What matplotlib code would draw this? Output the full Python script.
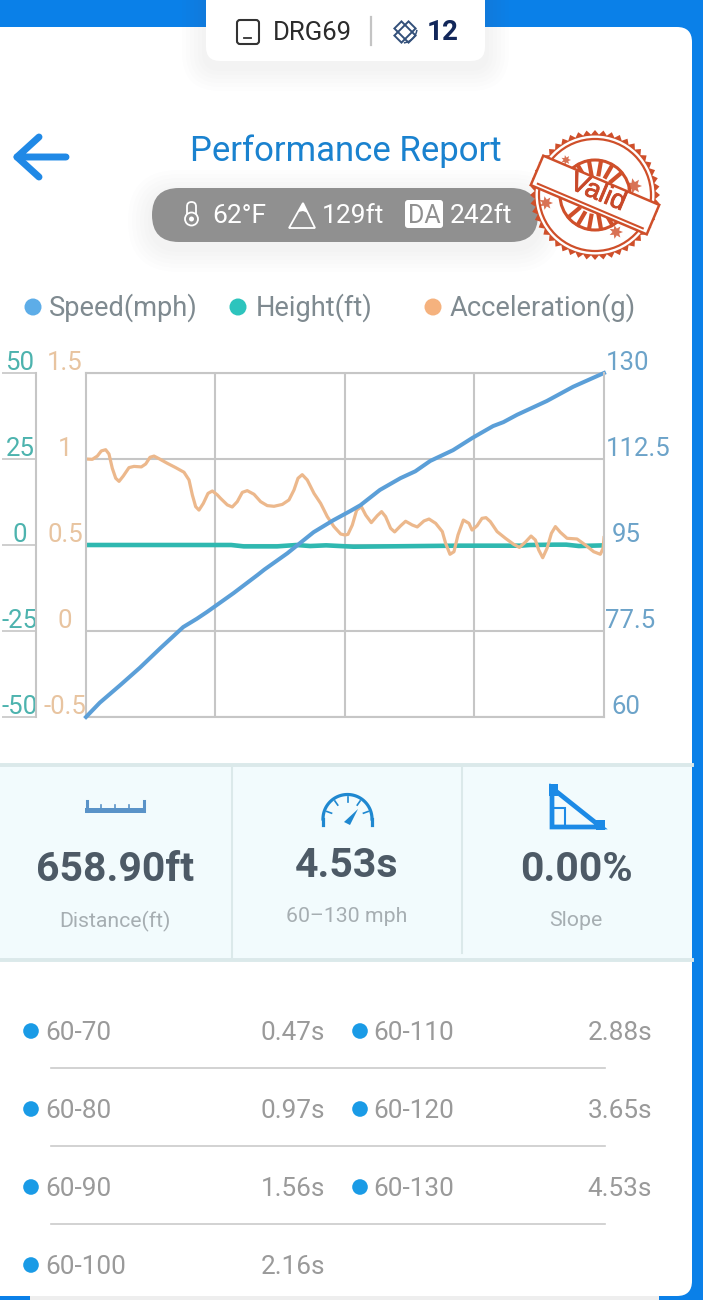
import numpy as np
import matplotlib
matplotlib.use('Agg')
import matplotlib.pyplot as plt
import matplotlib.patheffects as pe
from matplotlib.patches import FancyBboxPatch, Circle, Polygon, Rectangle
from matplotlib.transforms import ScaledTranslation

plt.rcParams['font.family'] = ['Roboto', 'DejaVu Sans']

# Speed over time
speed_t = [0, .12, .30, .47, .65, .85, .97, 1.06, 1.29, 1.50, 1.56, 1.76, 1.99, 2.16, 2.31, 2.40, 2.57,
           2.75, 2.88, 3.01, 3.21, 3.38, 3.56, 3.65, 3.77, 4.03, 4.26, 4.53]
speed = [60, 62.9, 66.5, 70, 74, 78.3, 80, 81.4, 85.2, 88.9, 90, 93.3, 97.6, 100, 101.9, 103.1, 106.2,
         108.6, 110, 112.1, 114.3, 116.8, 119.2, 120, 121.5, 124.3, 127.2, 130]

# Height over time
height_t = [0, 1.27, 1.38, 1.67, 1.84, 1.96, 2.10, 2.22, 2.34, 3.24, 3.80, 3.88, 4.10, 4.20, 4.31, 4.53]
height = [0, 0, -.4, -.4, 0, -.3, -.1, -.3, -.5, -.2, -.2, 0, .1, .1, -.3, -.1]

# Acceleration over time
accel_t = [0, .055, .099, .134, .172, .201, .23, .26, .289, .326, .376, .42, .484, .522, .56, .595, .638,
           .711, .784, .857, .901, .93, .959, .988, 1.026, 1.067, 1.105, 1.149, 1.177, 1.236, 1.279, 1.323,
           1.367, 1.41, 1.469, 1.527, 1.585, 1.644, 1.717, 1.775, 1.819, 1.854, 1.891, 1.935, 1.994, 2.052,
           2.11, 2.168, 2.227, 2.265, 2.291, 2.329, 2.367, 2.408, 2.446, 2.495, 2.548, 2.585, 2.62, 2.664,
           2.699, 2.752, 2.795, 2.854, 2.897, 2.956, 3.0, 3.058, 3.116, 3.145, 3.183, 3.218, 3.253, 3.3,
           3.349, 3.376, 3.42, 3.463, 3.498, 3.536, 3.595, 3.668, 3.74, 3.79, 3.842, 3.892, 3.93, 3.959,
           3.994, 4.032, 4.07, 4.105, 4.148, 4.207, 4.294, 4.367, 4.44, 4.498, 4.522, 4.53]
accel = [1.0, .998, 1.017, 1.047, 1.054, 1.029, .946, .888, .870, .901, .950, .957, .954, .971, 1.010, 1.017,
         1.002, .975, .950, .923, .878, .791, .723, .703, .742, .8, .814, .791, .771, .733, .721, .752, .806,
         .816, .795, .752, .729, .725, .736, .762, .82, .888, .909, .878, .8, .742, .665, .607, .564, .558,
         .562, .616, .703, .723, .674, .630, .671, .694, .665, .597, .576, .612, .638, .616, .605, .640, .651,
         .626, .578, .510, .446, .461, .558, .645, .626, .587, .612, .655, .659, .636, .578, .539, .504, .486,
         .516, .552, .529, .471, .426, .481, .568, .607, .574, .539, .535, .5, .461, .446, .481, .543]

speed_ticks = [60, 77.5, 95, 112.5, 130]
speed_labels = ['60', '77.5', '95', '112.5', '130']
height_ticks = [-50, -25, 0, 25, 50]
height_labels = ['-50', '-25', '0', '25', '50']
accel_ticks = [-0.5, 0, 0.5, 1, 1.5]
accel_labels = ['-0.5', '0', '0.5', '1', '1.5']
total_time = 4.53

legend_names = ['Speed(mph)', 'Height(ft)', 'Acceleration(g)']
stat_values = ['658.90ft', '4.53s', '0.00%']
stat_names = ['Distance(ft)', '60\u2013130 mph', 'Slope']
split_names = ['60-70', '60-80', '60-90', '60-100', '60-110', '60-120', '60-130']
split_times = ['0.47s', '0.97s', '1.56s', '2.16s', '2.88s', '3.65s', '4.53s']

BLUE = '#0a80e8'
GRID = '#c6c6c6'
C_SPEED, C_HEIGHT, C_ACCEL = '#5b9fd8', '#2fb8b0', '#ecb88c'

fig = plt.figure(figsize=(7.03, 13), dpi=100, facecolor=BLUE)

# Screen layer, in pixel coordinates
ui = fig.add_axes([0, 0, 1, 1])
ui.set_xlim(0, 703)
ui.set_ylim(1300, 0)
ui.axis('off')


def rounded(x, y, w, h, r, **kw):
    p = FancyBboxPatch((x + r, y + r), w - 2 * r, h - 2 * r,
                       boxstyle=f'round,pad={r},rounding_size={r}', linewidth=0, **kw)
    ui.add_patch(p)
    return p


def shadow(x, y, w, h, r, drop=6):
    for grow in range(24, 0, -4):
        rounded(x - grow, y - grow + drop, w + 2 * grow, h + 2 * grow, r + grow, facecolor='#707a88', alpha=.01, zorder=2)


def star(x, y, r, n=7):
    a = np.linspace(0, 2 * np.pi, 2 * n, endpoint=False)
    rad = np.where(np.arange(2 * n) % 2 == 0, r, r * .5)
    ui.add_patch(Polygon(np.c_[x + rad * np.cos(a), y + rad * np.sin(a)], closed=True, facecolor=RED, alpha=.8, linewidth=0, zorder=6.5))


# Card
ui.add_patch(Rectangle((30, 1296), 629, 4, facecolor='#eeeeee', linewidth=0, zorder=1))
rounded(-30, 27, 722, 1269, 15, facecolor='white', zorder=1)

# Header tab
shadow(206, -20, 279, 81, 14, 6)
rounded(206, -20, 279, 81, 14, facecolor='white', zorder=3)
rounded(237, 20, 22, 24, 3, facecolor='white', edgecolor='#333333', zorder=4).set_linewidth(1.5)
ui.plot([244, 251], [38, 38], color='#333333', lw=1.3, zorder=5)
ui.text(273, 33, 'DRG69', fontsize=18.5, color='#2b2b2b', va='center', zorder=5)
ui.plot([371, 371], [17, 45], color='#c4c4c4', lw=1.6, zorder=5)
ui.add_patch(Rectangle((400, 22), 10, 20, angle=-45, rotation_point=(405, 32), fill=False, edgecolor='#33507a', lw=1.4, zorder=5))
ui.add_patch(Rectangle((395, 27), 20, 10, angle=-45, rotation_point=(405, 32), fill=False, edgecolor='#33507a', lw=1.4, zorder=5))
ang = np.radians(np.linspace(10, 80, 12))
ui.plot(402 + 15 * np.cos(ang), 28 + 15 * np.sin(ang), color='#33507a', lw=1.1, zorder=5)
ui.text(427, 33, '12', fontsize=20, fontweight='bold', color='#12275a', va='center', zorder=5)

# Title row
ui.plot([66, 17, 39], [157, 157, 137], color='#2089e6', lw=5, solid_capstyle='round', solid_joinstyle='round', zorder=4)
ui.plot([17, 39], [157, 177], color='#2089e6', lw=5, solid_capstyle='round', zorder=4)
ui.text(345.5, 151, 'Performance Report', fontsize=25, color='#1a82cf', ha='center', va='center', zorder=4)

# Conditions pill
shadow(152, 188, 386, 54, 27, 6)
rounded(152, 188, 386, 54, 27, facecolor='#909090', zorder=3)
rounded(187, 202, 9, 18, 4.5, facecolor='#909090', edgecolor='white', zorder=4).set_linewidth(1.3)
ui.add_patch(Circle((191.5, 219), 6.5, facecolor='#909090', edgecolor='white', lw=1.3, zorder=4))
ui.add_patch(Circle((191.5, 219), 2.5, facecolor='white', linewidth=0, zorder=5))
ui.add_patch(Polygon([(289, 228), (303, 203), (315, 228)], closed=True, facecolor='#909090', edgecolor='white', lw=1.3, zorder=4))
ui.add_patch(Polygon([(298, 212), (303, 203), (308, 213), (303, 211)], closed=True, facecolor='white', linewidth=0, zorder=5))
rounded(405, 200, 38, 28, 3, facecolor='white', zorder=4)
ui.text(424, 216, 'DA', fontsize=18, color='#909090', ha='center', va='center', zorder=5)
for x, s in [(212, '62\u00b0F'), (322, '129ft'), (450, '242ft')]:
    ui.text(x, 216, s, fontsize=19, color='white', va='center', zorder=5)

# Stamp
RED = '#cf4f2a'
cx, cy = 595, 195
a = np.linspace(0, 2 * np.pi, 97)
r = np.where(np.arange(97) % 2 == 0, 65, 60.5)
ui.add_patch(Polygon(np.c_[cx + r * np.cos(a), cy + r * np.sin(a)], closed=True, facecolor=RED, linewidth=0, zorder=6))
ui.add_patch(Circle((cx, cy), 59.5, facecolor='white', linewidth=0, zorder=6))
ui.add_patch(Circle((cx, cy), 56, fill=False, edgecolor=RED, lw=1.6, zorder=6))
ui.add_patch(Circle((cx, cy), 35, fill=False, edgecolor=RED, lw=2.2, zorder=6))
for ang in np.radians([-120, -100, -80, -60, -40, 60, 80, 100, 120, 140]):
    ui.plot([cx + 21 * np.cos(ang), cx + 34 * np.cos(ang)], [cy + 21 * np.sin(ang), cy + 34 * np.sin(ang)],
            color=RED, lw=3, zorder=6)
for x, y, s in [(634, 186, 8), (616, 232, 7), (546, 203, 7), (566, 160, 5)]:
    star(x, y, s)
ui.add_patch(Rectangle((cx - 63, cy - 16), 126, 32, angle=23, rotation_point=(cx, cy), facecolor='white', edgecolor=RED, lw=1.8, zorder=7))
t = np.radians(23)
ui.plot([cx - 57 * np.cos(t) - 12 * np.sin(t), cx + 57 * np.cos(t) - 12 * np.sin(t)],
        [cy - 57 * np.sin(t) + 12 * np.cos(t), cy + 57 * np.sin(t) + 12 * np.cos(t)], color=RED, lw=1.5, zorder=8)
ui.text(cx + 3, cy - 2, 'Valid', fontsize=19.5, family='Liberation Sans', color='#c8492a', rotation=-23,
        rotation_mode='anchor', ha='center', va='center', zorder=8,
        path_effects=[pe.withStroke(linewidth=.6, foreground='#c8492a')])

# Legend
for x, tx, c, name in zip([33, 238, 433], [49, 256, 450], ['#5dade8', '#2dc4bd', '#f5b27e'], legend_names):
    ui.add_patch(Circle((x, 307), 8.5, facecolor=c, linewidth=0, zorder=3))
    ui.text(tx, 308, name, fontsize=19.6, color='#7f8a90', va='center', zorder=3)

# Stats strip
ui.add_patch(Rectangle((0, 765), 692, 195, facecolor='#f2fbfd', linewidth=0, zorder=2))
for y in (765, 960):
    ui.plot([0, 692], [y, y], color='#dbe9ea', lw=2.8, zorder=3)
for x, y1 in ((232, 958), (462, 953)):
    ui.plot([x, x], [767, y1], color='#dbe9ea', lw=1.5, zorder=3)
for x, y1, y2, val, name in zip([115, 347, 576], [870, 866, 870], [921, 917, 921], stat_values, stat_names):
    ui.text(x, y1, val, fontsize=29.5, fontweight='bold', color='#4d5a66', ha='center', va='center', zorder=4)
    ui.text(x, y2, name, fontsize=15.3, color='#a6aeb2', ha='center', va='center', zorder=4)

# Ruler icon
RULER = '#5a93c8'
ui.add_patch(Rectangle((85, 808), 60, 5, facecolor=RULER, linewidth=0, zorder=4))
for x, top in [(86.5, 801), (143.5, 801), (101, 805), (115, 805), (129, 805)]:
    ui.plot([x, x], [top, 811], color=RULER, lw=2.2 if top == 801 else 1.2, zorder=4)

# Gauge icon
GAUGE = '#1f88d0'
ang = np.radians(np.linspace(180, 360, 60))
ui.plot(347.5 + 24.5 * np.cos(ang), 819 + 24.5 * np.sin(ang), color=GAUGE, lw=2.3, zorder=4)
ui.plot([323, 323], [819, 825], color=GAUGE, lw=2.3, zorder=4)
ui.plot([372, 372], [819, 825], color=GAUGE, lw=2.3, zorder=4)
for deg in (200, 235, 270, 305, 340):
    th = np.radians(deg)
    ui.plot([347.5 + 17 * np.cos(th), 347.5 + 22 * np.cos(th)], [819 + 17 * np.sin(th), 819 + 22 * np.sin(th)], color=GAUGE, lw=1.2, zorder=4)
ui.add_patch(Polygon([(344, 822), (358, 809), (350, 825)], closed=True, facecolor=GAUGE, linewidth=0, zorder=4))

# Slope icon
SLOPE = '#1c8ae6'
ui.add_patch(Polygon([(552, 788), (601, 827), (552, 827)], closed=True, fill=False, edgecolor=SLOPE, lw=3.4, zorder=4))
ui.add_patch(Rectangle((553, 808), 12, 18, fill=False, edgecolor=SLOPE, lw=1.5, zorder=4))
ui.add_patch(Rectangle((549, 784), 9, 12, facecolor=SLOPE, linewidth=0, zorder=4))
ui.add_patch(Rectangle((596, 820), 9, 10, facecolor=SLOPE, linewidth=0, zorder=4))

# Split times, two columns
row_y = [1031, 1109, 1187, 1265, 1031, 1109, 1187]
for i, (name, val) in enumerate(zip(split_names, split_times)):
    dot_x, text_x, val_x = (31, 45, 325) if i < 4 else (360, 373, 652)
    ui.add_patch(Circle((dot_x, row_y[i]), 7.8, facecolor='#1a9be6', linewidth=0, zorder=3))
    ui.text(text_x, row_y[i] + 2, name, fontsize=18.8, color='#9a9a9a', va='center', zorder=3)
    ui.text(val_x, row_y[i] + 2, val, fontsize=18.8, color='#9a9a9a', ha='right', va='center', zorder=3)
for y in (1068, 1146, 1224):
    ui.plot([51, 605], [y, y], color='#cbcbcb', lw=1.2, zorder=3)

# Chart
box = [86 / 703, (1300 - 717) / 1300, 518 / 703, 344 / 1300]
ax_h = fig.add_axes(box, facecolor='none')
ax_a = ax_h.twinx()
ax_s = ax_h.twinx()
ax_h.set_zorder(1)
ax_a.set_zorder(2)
ax_s.set_zorder(3)
for ax in (ax_a, ax_s):
    ax.patch.set_visible(False)

ax_h.plot(height_t, height, color=C_HEIGHT, lw=3.3, solid_capstyle='butt')
ax_a.plot(accel_t, accel, color=C_ACCEL, lw=2.3, solid_joinstyle='round')
ax_s.plot(speed_t, speed, color=C_SPEED, lw=2.9, solid_joinstyle='round', clip_on=False)

ax_h.set_xlim(0, total_time)
ax_h.set_xticks([total_time * i / 4 for i in range(1, 4)])
ax_h.tick_params(axis='x', length=0, labelbottom=False)
ax_h.set_ylim(-50, 50)
ax_h.set_yticks(height_ticks, height_labels)
ax_h.grid(True, color=GRID, lw=1.5)
ax_h.set_axisbelow(True)
ax_a.set_ylim(-0.5, 1.5)
ax_a.set_yticks(accel_ticks, accel_labels)
ax_s.set_ylim(60, 130)
ax_s.set_yticks(speed_ticks, speed_labels)

for ax in (ax_h, ax_a, ax_s):
    for sp in ax.spines.values():
        sp.set_visible(False)
ax_h.spines['top'].set_visible(True)
ax_h.spines['bottom'].set_visible(True)
ax_h.spines['top'].set(color=GRID, lw=1.5)
ax_h.spines['bottom'].set(color=GRID, lw=1.5)

# Height axis sits out to the left of the plot
ax_h.spines['left'].set_visible(True)
ax_h.spines['left'].set_position(('outward', 36))
ax_h.spines['left'].set(color=GRID, lw=1.5)
ax_h.tick_params(axis='y', length=24.5, width=1.2, color=GRID, pad=-13, labelsize=18.5, labelcolor='#4db3ae')
ax_a.yaxis.tick_left()
ax_a.spines['left'].set_visible(True)
ax_a.spines['left'].set(color=GRID, lw=1.5)
ax_a.tick_params(axis='y', length=0, pad=15, labelsize=18.5, labelcolor='#e8c4a0')
ax_s.spines['right'].set_visible(True)
ax_s.spines['right'].set(color=GRID, lw=1.5)
ax_s.tick_params(axis='y', length=0, pad=1, labelsize=18.5, labelcolor='#6ca3c9')

# Value labels sit just above their grid lines
down = ScaledTranslation(0, -2 / 100, fig.dpi_scale_trans)
for ax in (ax_h, ax_a):
    for lab in ax.get_yticklabels():
        lab.set_va('bottom')
        lab.set_ha('center')
        lab.set_transform(lab.get_transform() + down)
for lab, tick in zip(ax_s.get_yticklabels(), ax_s.yaxis.get_major_ticks()):
    lab.set_va('bottom')
    if len(lab.get_text()) == 2:
        tick.set_pad(5.5)
    lab.set_transform(lab.get_transform() + down)

fig.savefig('out.png', dpi=100, facecolor=BLUE)
